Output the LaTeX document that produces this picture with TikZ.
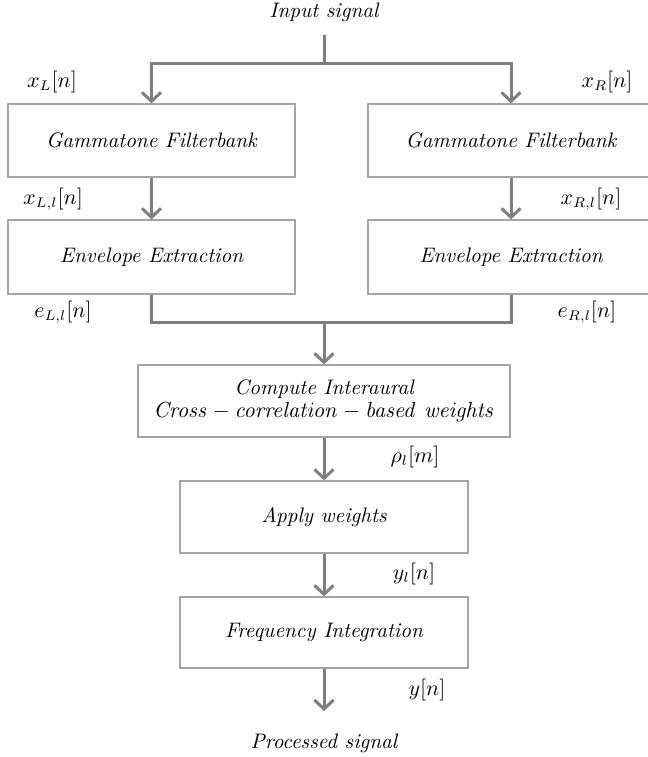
\documentclass[tikz,border=0pt]{standalone}
\usetikzlibrary{arrows.meta}
\definecolor{linegray}{RGB}{127,127,127}
\definecolor{boxgray}{RGB}{165,165,165}
\begin{document}
\begin{tikzpicture}[x=0.5pt,y=-0.5pt,
  font=\fontsize{10.5}{11.5}\selectfont,
  blockbox/.style={draw=boxgray, line width=0.6pt, minimum height=36.5pt, inner sep=0pt, align=center, font=\fontsize{10.5}{11.5}\selectfont\itshape},
  flow/.style={draw=linegray, line width=1.5pt},
  arr/.style={flow, -{Straight Barb[length=4.5pt,width=9.5pt]}}]
  \useasboundingbox (0,0) rectangle (648,757);
  \node (input) at (324,12) {\itshape Input signal};
  \node[blockbox, minimum width=143.5pt] (gtL) at (151.5,140.5) {Gammatone Filterbank};
  \node[blockbox, minimum width=143pt] (gtR) at (511,140.5) {Gammatone Filterbank};
  \node[blockbox, minimum width=143.5pt, minimum height=37pt] (envL) at (151.5,257) {Envelope Extraction};
  \node[blockbox, minimum width=143pt, minimum height=37pt] (envR) at (511,257) {Envelope Extraction};
  \node[blockbox, minimum width=186pt, minimum height=36pt] (comp) at (324,401) {Compute Interaural\\ $\mathit{Cross}-\mathit{correlation}-\mathit{based\ weights}$};
  \node[blockbox, minimum width=144pt, minimum height=36pt] (apply) at (324,517) {Apply weights};
  \node[blockbox, minimum width=144pt, minimum height=35.5pt] (freq) at (324,632.5) {Frequency Integration};
  \node (output) at (324,743) {\itshape Processed signal};
  \node (xL) at (52,82) {$x_L[n]$};
  \node (xR) at (607,82) {$x_R[n]$};
  \node (xLl) at (53,199) {$x_{L,l}[n]$};
  \node (xRl) at (591,199) {$x_{R,l}[n]$};
  \node (eLl) at (63,312) {$e_{L,l}[n]$};
  \node (eRl) at (587,312) {$e_{R,l}[n]$};
  \node (rho) at (415,457) {$\rho_l[m]$};
  \node (yl) at (414,574) {$y_l[n]$};
  \node (y) at (427,690) {$y[n]$};
  \coordinate (src) at (324,35);
  \coordinate (split) at (324,63);
  \coordinate (merge) at (324,322);
  \coordinate (sink) at (324,711);
  \draw[flow] (src) -- (split);
  \draw[arr] (split) -| (gtL.north);
  \draw[arr] (split) -| (gtR.north);
  \draw[arr] (gtL) -- (envL);
  \draw[arr] (gtR) -- (envR);
  \draw[flow] (envL.south) |- (merge) -| (envR.south);
  \draw[arr] (merge) -- (comp.north);
  \draw[arr] (comp) -- (apply);
  \draw[arr] (apply) -- (freq);
  \draw[arr] (freq.south) -- (sink);
\end{tikzpicture}
\end{document}
